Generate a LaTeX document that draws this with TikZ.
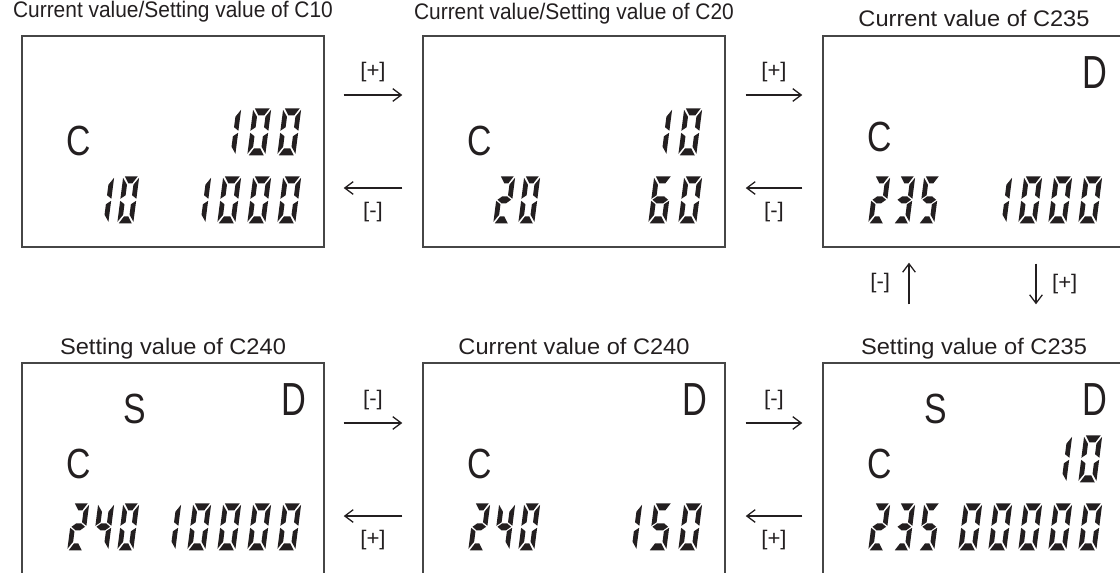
\documentclass[tikz,border=0pt]{standalone}
\usepackage{fontspec}
\setmainfont{Liberation Sans}
\newfontfamily\widefont[FakeStretch=1.05]{Liberation Sans}
\newfontfamily\condfont[FakeStretch=0.93]{Liberation Sans}
\newfontfamily\narrowfont[FakeStretch=0.74]{Liberation Sans}
\newfontfamily\letterfont[FakeStretch=0.8]{Liberation Sans}
\usetikzlibrary{arrows.meta,positioning}
\definecolor{lcdink}{RGB}{35,31,32}
\definecolor{lcdframe}{RGB}{70,70,70}

% seven segment pieces, local units (px), y up, height 47
\newcommand\lcdsega{\fill (1.5,47) -- (\lcdW-1.5,47) -- (\lcdW-6,40) -- (6,40) -- cycle;}
\newcommand\lcdsegb{\fill (\lcdW,45.5) -- (\lcdW,24.5) -- (\lcdW-4.8,28) -- (\lcdW-4.8,38.5) -- cycle;}
\newcommand\lcdsegc{\fill (\lcdW,1.5) -- (\lcdW,22.5) -- (\lcdW-4.8,19) -- (\lcdW-4.8,8.5) -- cycle;}
\newcommand\lcdsegd{\fill (1.5,0) -- (\lcdW-1.5,0) -- (\lcdW-6,7) -- (6,7) -- cycle;}
\newcommand\lcdsege{\fill (0,1.5) -- (0,22.5) -- (4.8,19) -- (4.8,8.5) -- cycle;}
\newcommand\lcdsegf{\fill (0,45.5) -- (0,24.5) -- (4.8,28) -- (4.8,38.5) -- cycle;}
\newcommand\lcdsegg{\fill (1.2,23.5) -- (5.7,27) -- (\lcdW-5.7,27) -- (\lcdW-1.2,23.5) -- (\lcdW-5.7,20) -- (5.7,20) -- cycle;}

% #1 first x, #2 bottom y, #3 pitch, #4 digit width, #5 digits
\newcommand\lcdnum[5]{%
  \def\lcdW{#4}%
  \foreach \d [count=\i from 0] in {#5}{%
    \begin{scope}[shift={(#1+#3*\i,#2)}, yscale=-1, xslant=-0.128, lcdink]
      \ifcase\d\relax \def\segs{a,b,c,d,e,f}\or \def\segs{b,c}\or \def\segs{a,b,g,e,d}\or
        \def\segs{a,b,g,c,d}\or \def\segs{f,g,b,c}\or \def\segs{a,f,g,c,d}\or
        \def\segs{a,f,g,e,c,d}\fi
      \foreach \s in \segs {\csname lcdseg\s\endcsname}
    \end{scope}}}

\begin{document}
\begin{tikzpicture}[x=0.025cm, y=-0.025cm,
  lcdbox/.style={draw=lcdframe, line width=1pt, minimum width=7.55cm, minimum height=5.275cm, inner sep=0},
  ttl/.style={font=\condfont\fontsize{16}{18}\selectfont, text=lcdink, anchor=base, inner sep=0},
  ttlwide/.style={ttl, font=\widefont\fontsize{16}{18}\selectfont},
  albl/.style={font=\widefont\fontsize{15}{17}\selectfont, text=lcdink, inner sep=0},
  lcdletter/.style={font=\letterfont\fontsize{30}{32}\selectfont, text=lcdink, inner sep=0},
  lcdflag/.style={font=\narrowfont\fontsize{33}{35}\selectfont, text=lcdink, inner sep=0},
  flow/.style={-{Straight Barb[length=6pt,width=9pt]}, line width=0.9pt, lcdink}]
  \path[use as bounding box] (0,0) rectangle (1120,573);
  \clip (0,0) rectangle (1120,573);

  %--- display frames ---
  \node[lcdbox] (b1) at (173,141.5) {};
  \node[lcdbox] (b2) at (574,141.5) {};
  \node[lcdbox] (b3) at (974,141.5) {};
  \node[lcdbox] (b4) at (173,468.5) {};
  \node[lcdbox] (b5) at (574,468.5) {};
  \node[lcdbox] (b6) at (974,468.5) {};

  %--- titles ---
  \node[ttl] (t1) at ([shift={(0,-18)}]b1.north) {Current value/Setting value of C10};
  \node[ttl] (t2) at ([shift={(0,-16)}]b2.north) {Current value/Setting value of C20};
  \node[ttlwide] (t3) at ([shift={(0,-9)}]b3.north) {Current value of C235};
  \node[ttlwide] (t4) at ([shift={(0,-8)}]b4.north) {Setting value of C240};
  \node[ttlwide] (t5) at ([shift={(0,-8)}]b5.north) {Current value of C240};
  \node[ttlwide] (t6) at ([shift={(0,-8)}]b6.north) {Setting value of C235};

  %--- C10 ---
  \begin{scope}[shift={(b1.north west)}]
    \node[lcdletter] (c1) at (57,106) {C};
    \lcdnum{196}{120}{30}{18}{1,0,0}
    \lcdnum{71}{188}{25}{16}{1,0}
    \lcdnum{166}{188}{30}{18}{1,0,0,0}
  \end{scope}

  %--- C20 ---
  \begin{scope}[shift={(b2.north west)}]
    \node[lcdletter] (c2) at (57,106) {C};
    \lcdnum{226}{120}{30}{18}{1,0}
    \lcdnum{71}{188}{25}{16}{2,0}
    \lcdnum{226}{188}{30}{18}{6,0}
  \end{scope}

  %--- C235 current ---
  \begin{scope}[shift={(b3.north west)}]
    \node[lcdflag] (d3) at (273,37) {D};
    \node[lcdletter] (c3) at (57,102) {C};
    \lcdnum{46}{188}{25}{16}{2,3,5}
    \lcdnum{166}{188}{30}{18}{1,0,0,0}
  \end{scope}

  %--- C240 setting ---
  \begin{scope}[shift={(b4.north west)}]
    \node[lcdletter] (s4) at (113,47) {S};
    \node[lcdflag] (d4) at (273,37) {D};
    \node[lcdletter] (c4) at (57,102) {C};
    \lcdnum{46}{188}{25}{16}{2,4,0}
    \lcdnum{136}{188}{30}{18}{1,0,0,0,0}
  \end{scope}

  %--- C240 current ---
  \begin{scope}[shift={(b5.north west)}]
    \node[lcdflag] (d5) at (273,37) {D};
    \node[lcdletter] (c5) at (57,102) {C};
    \lcdnum{46}{188}{25}{16}{2,4,0}
    \lcdnum{196}{188}{30}{18}{1,5,0}
  \end{scope}

  %--- C235 setting ---
  \begin{scope}[shift={(b6.north west)}]
    \node[lcdletter] (s6) at (113,47) {S};
    \node[lcdflag] (d6) at (273,37) {D};
    \node[lcdletter] (c6) at (57,102) {C};
    \lcdnum{226}{120}{30}{18}{1,0}
    \lcdnum{46}{188}{25}{16}{2,3,5}
    \lcdnum{136}{188}{30}{18}{0,0,0,0,0}
  \end{scope}

  %--- key steps, top row ---
  \draw[flow] ([shift={(19,-46.5)}]b1.east) -- node[albl, anchor=base, yshift=12.8pt] (k1) {[+]} ([shift={(-20,-46.5)}]b2.west);
  \draw[flow] ([shift={(-20,46.5)}]b2.west) -- node[albl, anchor=base, yshift=-21.3pt] (k2) {[-]} ([shift={(19,46.5)}]b1.east);
  \draw[flow] ([shift={(20,-46.5)}]b2.east) -- node[albl, anchor=base, yshift=12.8pt] (k3) {[+]} ([shift={(-20,-46.5)}]b3.west);
  \draw[flow] ([shift={(-20,46.5)}]b3.west) -- node[albl, anchor=base, yshift=-21.3pt] (k4) {[-]} ([shift={(20,46.5)}]b2.east);

  %--- key steps, right column ---
  \draw[flow] ([shift={(-65,-58)}]b6.north) -- node[albl, left=13pt] (k5) {[-]} ([shift={(-65,15)}]b3.south);
  \draw[flow] ([shift={(62,16)}]b3.south) -- node[albl, right=11pt] (k6) {[+]} ([shift={(62,-58)}]b6.north);

  %--- key steps, bottom row ---
  \draw[flow] ([shift={(19,-45.5)}]b4.east) -- node[albl, anchor=base, yshift=12.8pt] (k7) {[-]} ([shift={(-20,-45.5)}]b5.west);
  \draw[flow] ([shift={(-20,47.5)}]b5.west) -- node[albl, anchor=base, yshift=-21.3pt] (k8) {[+]} ([shift={(19,47.5)}]b4.east);
  \draw[flow] ([shift={(20,-45.5)}]b5.east) -- node[albl, anchor=base, yshift=12.8pt] (k9) {[-]} ([shift={(-20,-45.5)}]b6.west);
  \draw[flow] ([shift={(-20,47.5)}]b6.west) -- node[albl, anchor=base, yshift=-21.3pt] (k10) {[+]} ([shift={(20,47.5)}]b5.east);
\end{tikzpicture}
\end{document}
